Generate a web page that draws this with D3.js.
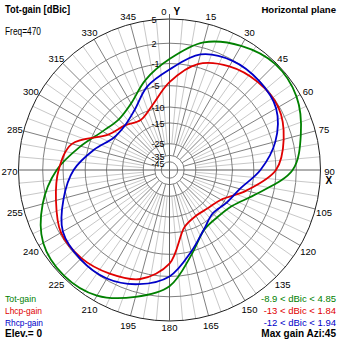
<!DOCTYPE html>
<html><head><meta charset="utf-8">
<script src="https://cdn.jsdelivr.net/npm/d3@7"></script>
<style>html,body{margin:0;padding:0;background:#fff}svg{display:block}</style>
</head><body>
<script>
// Azimuth pattern, horizontal plane, 470 MHz (gain in dBic)
const azimuths = [0,15,30,45,60,75,90,105,120,135,150,165,180,195,210,225,240,255,270,285,300,315,330,345];
const totGain  = [-0.3,2.7,4.1,4.85,4.5,3.2,1.5,-3.7,-7.7,-8.9,-8.4,-4.5,0.5,2.6,4.3,4.8,4.4,2.6,0.0,-3.5,-6.5,-7.8,-6.6,-3.3];
const lhcpGain = [-4.3,-0.5,1.0,1.7,1.84,0.8,-1.0,-6.0,-11,-12.6,-13,-11.2,-3.2,0.0,1.0,1.7,1.8,0.7,-0.3,-1.9,-8.0,-10,-11.5,-9];
const rhcpGain = [-2.0,1.0,1.9,1.94,1.5,-0.5,-3.7,-7.5,-9.3,-10.5,-8.5,-5,-1.0,0.8,1.8,1.9,1.5,-0.5,-2.8,-6.3,-9.6,-10,-8.3,-4.6];

// Grid rings (dBic) and compass tick labels
const ringLevels = [5,2,-1,-5,-10,-15,-25,-35,-45];
const angleTicks = [0,15,30,45,60,75,90,105,120,135,150,165,180,195,210,225,240,255,270,285,300,315,330,345];
const angleLabels = ["0","15","30","45","60","75","90","105","120","135","150","165","180","195","210","225","240","255","270","285","300","315","330","345"];

const seriesNames  = ["Tot-gain","Lhcp-gain","Rhcp-gain"];
const seriesColors = ["#008000","#e00000","#0000c8"];
const rangeTexts   = ["-8.9 < dBic < 4.85","-13 < dBic < 1.84","-12 < dBic < 1.94"];

const W = 339, H = 339, cx = 169.5, cy = 170, R = 151;
const maxDb = 5;

const svg = d3.select("body").append("svg").attr("width", W).attr("height", H)
  .style("font-family", "Arial, 'Liberation Sans', sans-serif");
const g = svg.append("g").attr("transform", `translate(${cx},${cy})`);

// ARRL-style log radial scale: each 2 dB step shrinks the radius by 0.89
const power = db => Math.pow(10, db / 10);
const rScale = d3.scalePow().exponent(-Math.log(0.89) / 2 * 10 / Math.LN10)
  .domain([0, power(maxDb)]).range([0, R]);
const rad = db => rScale(power(db));
const aScale = d3.scaleLinear().domain([0, 360]).range([0, 2 * Math.PI]);
const px = (az, r) => r * Math.sin(aScale(az));
const py = (az, r) => -r * Math.cos(aScale(az));

// spokes: light every 5 deg, darker every 15 deg
const fine = d3.range(0, 360, 5).filter(a => a % 15 !== 0);
g.selectAll("line.fine").data(fine).join("line")
  .attr("x1", a => px(a, rad(-25))).attr("y1", a => py(a, rad(-25)))
  .attr("x2", a => px(a, R)).attr("y2", a => py(a, R))
  .attr("stroke", "#c8c8c8").attr("stroke-width", 1);
g.selectAll("line.major").data(angleTicks.filter(a => a % 90 !== 0)).join("line")
  .attr("x1", a => px(a, rad(-35))).attr("y1", a => py(a, rad(-35)))
  .attr("x2", a => px(a, R)).attr("y2", a => py(a, R))
  .attr("stroke", "#808080").attr("stroke-width", 1);

// rings
g.selectAll("circle.ring").data(ringLevels).join("circle")
  .attr("r", d => rad(d)).attr("fill", "none")
  .attr("stroke", d => d === maxDb ? "#202020" : "#808080").attr("stroke-width", 1);

// main axes
g.append("line").attr("x1", -R).attr("x2", R).attr("y1", 0).attr("y2", 0)
  .attr("stroke", "#606060").attr("stroke-width", 1);
g.append("line").attr("x1", 0).attr("x2", 0).attr("y1", -R - 5).attr("y2", R)
  .attr("stroke", "#606060").attr("stroke-width", 1);

// ring labels
g.selectAll("text.ring").data(ringLevels).join("text")
  .attr("x", -18).attr("y", d => -rad(d) + (rad(d) < 20 ? 2 : 0.5)).attr("dy", "0.35em")
  .attr("font-size", 9).attr("fill", "#000")
  .text(d => d);

// compass labels
g.selectAll("text.ang").data(angleTicks.filter(a => a !== 0)).join("text")
  .attr("x", a => px(a, R + 9)).attr("y", a => (a === 180 ? R + 5 : py(a, R + 9)) + 1.5)
  .attr("text-anchor", "middle").attr("dy", "0.35em")
  .attr("font-size", 9.5).attr("fill", "#000")
  .text(a => angleLabels[angleTicks.indexOf(a)]);
g.append("text").attr("x", -3).attr("y", -R - 4).attr("text-anchor", "end")
  .attr("font-size", 9.5).text(angleLabels[0]);
g.append("text").attr("x", 4).attr("y", -R - 4).attr("font-size", 10).attr("font-weight", "bold").text("Y");
g.append("text").attr("x", R + 5).attr("y", 14).attr("font-size", 10).attr("font-weight", "bold").text("X");

// pattern curves
const line = d3.lineRadial()
  .angle(d => aScale(d[0])).radius(d => rad(d[1]))
  .curve(d3.curveCatmullRomClosed.alpha(0.5));
[totGain, lhcpGain, rhcpGain].forEach((vals, i) => {
  g.append("path").datum(azimuths.map((a, j) => [a, vals[j]]))
    .attr("d", line).attr("fill", "none")
    .attr("stroke", seriesColors[i]).attr("stroke-width", 1.8);
});

// header texts
svg.append("text").attr("x", 5).attr("y", 13).attr("font-size", 10.5).attr("font-weight", "bold")
  .attr("textLength", 65).attr("lengthAdjust", "spacingAndGlyphs").text("Tot-gain [dBic]");
svg.append("text").attr("x", 5).attr("y", 35).attr("font-size", 10)
  .attr("textLength", 36).attr("lengthAdjust", "spacingAndGlyphs").text("Freq=470");
svg.append("text").attr("x", 336).attr("y", 13).attr("font-size", 9.6).attr("font-weight", "bold")
  .attr("text-anchor", "end").text("Horizontal plane");

// legend
const rows = [301.5, 313.5, 325.5];
const nameWidths = [31, 37, 38];
seriesNames.forEach((n, i) => {
  svg.append("text").attr("x", 5).attr("y", rows[i]).attr("font-size", 9.5)
    .attr("textLength", nameWidths[i]).attr("lengthAdjust", "spacingAndGlyphs")
    .attr("fill", seriesColors[i]).text(n);
  svg.append("text").attr("x", 336).attr("y", rows[i]).attr("font-size", 9.5)
    .attr("text-anchor", "end").attr("fill", seriesColors[i]).text(rangeTexts[i]);
});
svg.append("text").attr("x", 5).attr("y", 337).attr("font-size", 10).attr("font-weight", "bold")
  .attr("textLength", 37).attr("lengthAdjust", "spacingAndGlyphs").text("Elev.= 0");
svg.append("text").attr("x", 336).attr("y", 337).attr("font-size", 10).attr("font-weight", "bold")
  .attr("text-anchor", "end").text("Max gain Azi:45");
</script>
</body></html>
